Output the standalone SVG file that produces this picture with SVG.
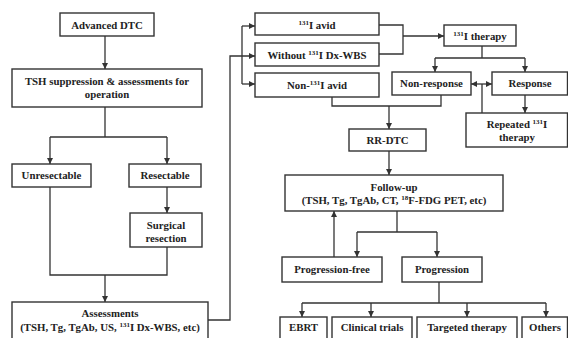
<svg xmlns="http://www.w3.org/2000/svg" width="568" height="338" viewBox="0 0 568 338">
<style>
.box{fill:#fff;stroke:#333;stroke-width:1.4}
.t{font-family:"Liberation Serif","Times New Roman",serif;font-weight:bold;font-size:10.8px;fill:#222;text-anchor:middle}
.sup{font-size:7px}
.c{fill:none;stroke:#333;stroke-width:1.3}
</style>
<defs>
<marker id="ah" markerUnits="userSpaceOnUse" markerWidth="6" markerHeight="6" viewBox="0 0 6 6" refX="6" refY="3" orient="auto-start-reverse">
<path d="M0,0 L6,3 L0,6 z" fill="#333"/>
</marker>
</defs>
<rect width="568" height="338" fill="#fff"/>
<g id="connectors">
<path class="c" d="M105,36 V69" marker-end="url(#ah)"/>
<path class="c" d="M105,107 V137 M50,137 H167"/>
<path class="c" d="M50,137 V164" marker-end="url(#ah)"/>
<path class="c" d="M167,137 V164" marker-end="url(#ah)"/>
<path class="c" d="M167,187 V213" marker-end="url(#ah)"/>
<path class="c" d="M50,187 V275 H167 V247"/>
<path class="c" d="M105,275 V302" marker-end="url(#ah)"/>
<path class="c" d="M208,320 H230 V56 H255" marker-end="url(#ah)"/>
<path class="c" d="M242,26 V84"/>
<path class="c" d="M242,26 H255" marker-end="url(#ah)"/>
<path class="c" d="M242,84 H255" marker-end="url(#ah)"/>
<path class="c" d="M379,25 H403 V54 H379"/>
<path class="c" d="M403,36 H444" marker-end="url(#ah)"/>
<path class="c" d="M482,46 V58 M435,58 H525"/>
<path class="c" d="M435,58 V72" marker-end="url(#ah)"/>
<path class="c" d="M525,58 V72" marker-end="url(#ah)"/>
<path class="c" d="M471,84 H492" marker-start="url(#ah)" marker-end="url(#ah)"/>
<path class="c" d="M482,113 V84"/>
<path class="c" d="M525,95 V113" marker-end="url(#ah)"/>
<path class="c" d="M332,97 V106 H441 V95"/>
<path class="c" d="M389,106 V129" marker-end="url(#ah)"/>
<path class="c" d="M389,151 V175" marker-end="url(#ah)"/>
<path class="c" d="M397,211 V232 M357,232 H437"/>
<path class="c" d="M357,232 V257" marker-end="url(#ah)"/>
<path class="c" d="M437,232 V257" marker-end="url(#ah)"/>
<path class="c" d="M334,257 V211" marker-end="url(#ah)"/>
<path class="c" d="M439,282 V303 M302,303 H546"/>
<path class="c" d="M302,303 V317" marker-end="url(#ah)"/>
<path class="c" d="M371,303 V317" marker-end="url(#ah)"/>
<path class="c" d="M467,303 V317" marker-end="url(#ah)"/>
<path class="c" d="M546,303 V317" marker-end="url(#ah)"/>
</g>
<g id="n-advanced"><rect class="box" x="60" y="13" width="94" height="23"/><text class="t" x="107" y="28.5">Advanced DTC</text></g>
<g id="n-tsh"><rect class="box" x="12" y="69" width="190" height="38"/><text class="t" x="107" y="85">TSH suppression &amp; assessments for</text><text class="t" x="107" y="98">operation</text></g>
<g id="n-unres"><rect class="box" x="12" y="164" width="79" height="23"/><text class="t" x="51.5" y="179">Unresectable</text></g>
<g id="n-res"><rect class="box" x="129" y="164" width="72" height="23"/><text class="t" x="165" y="179">Resectable</text></g>
<g id="n-surg"><rect class="box" x="130" y="213" width="72" height="34"/><text class="t" x="166" y="228.5">Surgical</text><text class="t" x="166" y="241.5">resection</text></g>
<g id="n-assess"><rect class="box" x="12" y="302" width="196" height="45"/><text class="t" x="110" y="317">Assessments</text><text class="t" x="110" y="330.5">(TSH, Tg, TgAb, US, <tspan class="sup" dy="-4">131</tspan><tspan dy="4">I Dx-WBS, etc)</tspan></text></g>
<g id="n-avid"><rect class="box" x="255" y="13" width="124" height="22"/><text class="t" x="317" y="28.5"><tspan class="sup" dy="-4">131</tspan><tspan dy="4">I avid</tspan></text></g>
<g id="n-without"><rect class="box" x="255" y="43" width="124" height="23"/><text class="t" x="317" y="58.5">Without <tspan class="sup" dy="-4">131</tspan><tspan dy="4">I Dx-WBS</tspan></text></g>
<g id="n-nonavid"><rect class="box" x="255" y="73" width="124" height="24"/><text class="t" x="317" y="88.5">Non-<tspan class="sup" dy="-4">131</tspan><tspan dy="4">I avid</tspan></text></g>
<g id="n-therapy"><rect class="box" x="444" y="25" width="72" height="21"/><text class="t" x="480" y="39.5"><tspan class="sup" dy="-4">131</tspan><tspan dy="4">I therapy</tspan></text></g>
<g id="n-nonresp"><rect class="box" x="392" y="72" width="79" height="23"/><text class="t" x="431.5" y="87">Non-response</text></g>
<g id="n-resp"><rect class="box" x="492" y="72" width="75.5" height="23"/><text class="t" x="530" y="87">Response</text></g>
<g id="n-repeat"><rect class="box" x="466" y="113" width="101.5" height="34"/><text class="t" x="517" y="128"><tspan>Repeated </tspan><tspan class="sup" dy="-4">131</tspan><tspan dy="4">I</tspan></text><text class="t" x="517" y="141">therapy</text></g>
<g id="n-rrdtc"><rect class="box" x="349" y="129" width="77" height="22"/><text class="t" x="387.5" y="144">RR-DTC</text></g>
<g id="n-follow"><rect class="box" x="285" y="175" width="218" height="36"/><text class="t" x="394" y="190.5">Follow-up</text><text class="t" x="394" y="203.5">(TSH, Tg, TgAb, CT, <tspan class="sup" dy="-4">18</tspan><tspan dy="4">F-FDG PET, etc)</tspan></text></g>
<g id="n-pfree"><rect class="box" x="282" y="257" width="100" height="25"/><text class="t" x="332" y="273">Progression-free</text></g>
<g id="n-prog"><rect class="box" x="402" y="257" width="80" height="25"/><text class="t" x="442" y="272.5">Progression</text></g>
<g id="n-ebrt"><rect class="box" x="280" y="317" width="47" height="30"/><text class="t" x="303.5" y="331">EBRT</text></g>
<g id="n-clin"><rect class="box" x="332" y="317" width="80" height="30"/><text class="t" x="372" y="331">Clinical trials</text></g>
<g id="n-target"><rect class="box" x="417" y="317" width="100" height="30"/><text class="t" x="467" y="331">Targeted therapy</text></g>
<g id="n-others"><rect class="box" x="522" y="317" width="45.5" height="30"/><text class="t" x="545" y="331">Others</text></g>
</svg>
